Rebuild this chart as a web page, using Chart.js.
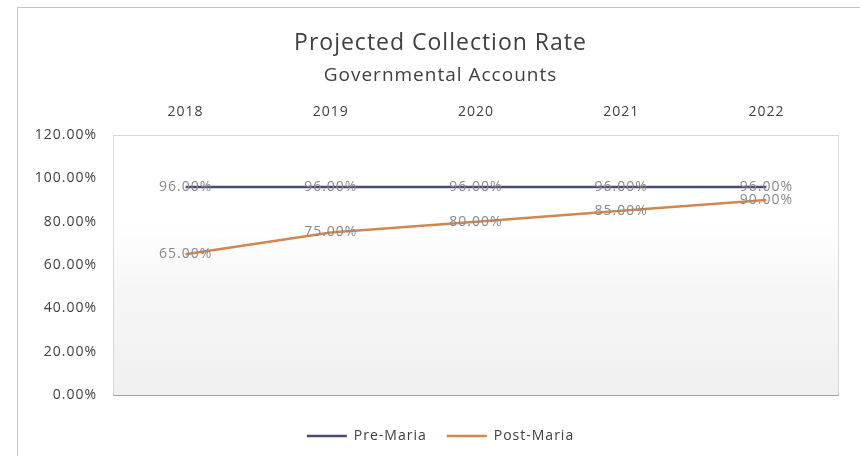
<!DOCTYPE html>
<html>
<head>
<meta charset="utf-8">
<script src="https://cdn.jsdelivr.net/npm/chart.js@4"></script>
<style>
  html, body { margin: 0; padding: 0; background: #fff; overflow: hidden; }
  #frame {
    position: absolute; left: 17px; top: 7px; width: 900px; height: 500px;
    border-left: 1px solid #c4c4c4; border-top: 1px solid #c4c4c4;
  }
  #chart { position: absolute; left: 18px; top: 8px; }
</style>
</head>
<body>
<div id="frame"></div>
<canvas id="chart" width="845" height="448"></canvas>
<script>
const years = ["2018", "2019", "2020", "2021", "2022"];
const preMaria = [96, 96, 96, 96, 96];
const postMaria = [65, 75, 80, 85, 90];
const yMax = 120;
const yStep = 20;

const FONT = "'Open Sans', 'Noto Sans', sans-serif";

function pct(v) {
    return v.toFixed(2) + "%";
}

// wider glyph spacing, the original text is spaced out a lot
const spacing = {
    id: "spacing",
    beforeUpdate(chart) { chart.ctx.letterSpacing = "1px"; },
    beforeLayout(chart) { chart.ctx.letterSpacing = "1px"; },
    beforeDraw(chart) {
        const ctx = chart.ctx;
        ctx.letterSpacing = "1px";
        const a = chart.chartArea;
        const g = ctx.createLinearGradient(0, a.top, 0, a.bottom);
        g.addColorStop(0, "#ffffff");
        g.addColorStop(0.35, "#ffffff");
        g.addColorStop(0.6, "#f6f6f6");
        g.addColorStop(1, "#f0f0f0");
        ctx.save();
        ctx.fillStyle = g;
        ctx.fillRect(a.left, a.top, a.right - a.left, a.bottom - a.top);
        ctx.strokeStyle = "#d9d9d9";
        ctx.lineWidth = 1;
        ctx.strokeRect(a.left + 0.5, a.top + 0.5, a.right - a.left - 1, a.bottom - a.top);
        ctx.strokeStyle = "#a6a6a6";
        ctx.beginPath();
        ctx.moveTo(a.left, a.bottom + 0.5);
        ctx.lineTo(a.right, a.bottom + 0.5);
        ctx.stroke();
        ctx.restore();
    }
};

// value labels sitting on the points
const valueLabels = {
    id: "valueLabels",
    afterDatasetsDraw(chart) {
        const ctx = chart.ctx;
        ctx.save();
        ctx.font = "14px " + FONT;
        ctx.fillStyle = "#8a8a8a";
        ctx.textAlign = "center";
        ctx.textBaseline = "middle";
        chart.data.datasets.forEach(function(ds, i) {
            chart.getDatasetMeta(i).data.forEach(function(pt, j) {
                ctx.fillText(pct(ds.data[j]), pt.x, pt.y);
            });
        });
        ctx.restore();
    }
};

new Chart(document.getElementById("chart"), {
    type: "line",
    data: {
        labels: years,
        datasets: [
            {
                label: "Pre-Maria",
                data: preMaria,
                borderColor: "#484c70",
                borderWidth: 2.5,
                pointRadius: 0,
                tension: 0
            },
            {
                label: "Post-Maria",
                data: postMaria,
                borderColor: "#d08850",
                borderWidth: 2.5,
                pointRadius: 0,
                tension: 0
            }
        ]
    },
    options: {
        responsive: false,
        animation: false,
        layout: { padding: { top: 0, right: 0, bottom: 3, left: 0 } },
        plugins: {
            title: {
                display: true,
                text: "Projected Collection Rate",
                color: "#404040",
                font: { family: FONT, size: 23, weight: "normal" },
                padding: { top: 22, bottom: 0 }
            },
            subtitle: {
                display: true,
                text: "Governmental Accounts",
                color: "#404040",
                font: { family: FONT, size: 19, weight: "normal" },
                padding: { top: 7, bottom: 0 }
            },
            legend: {
                position: "bottom",
                title: { display: true, text: "", font: { size: 10 }, padding: { top: 0, bottom: 2 } },
                labels: {
                    usePointStyle: true,
                    pointStyle: "line",
                    pointStyleWidth: 40,
                    padding: 20,
                    color: "#404040",
                    font: { family: FONT, size: 14 }
                }
            },
            tooltip: { enabled: false }
        },
        scales: {
            x: {
                position: "top",
                offset: true,
                grid: { display: false, drawTicks: false },
                border: { display: false },
                ticks: {
                    color: "#404040",
                    padding: 15,
                    font: { family: FONT, size: 14 }
                },
                afterFit: function(scale) { scale.height = 47.6; }
            },
            y: {
                min: 0,
                max: yMax,
                grid: { display: false, drawTicks: false },
                border: { display: false },
                ticks: {
                    stepSize: yStep,
                    padding: 16,
                    color: "#404040",
                    font: { family: FONT, size: 14 },
                    callback: function(v) { return pct(v); }
                },
                afterFit: function(scale) { scale.width = 95; }
            },
            // empty strip on the right so the titles stay centred on the frame
            yRight: {
                position: "right",
                min: 0,
                max: yMax,
                grid: { display: false, drawTicks: false },
                border: { display: false },
                ticks: { display: false },
                afterFit: function(scale) { scale.width = 24; }
            }
        }
    },
    plugins: [spacing, valueLabels]
});
</script>
</body>
</html>
